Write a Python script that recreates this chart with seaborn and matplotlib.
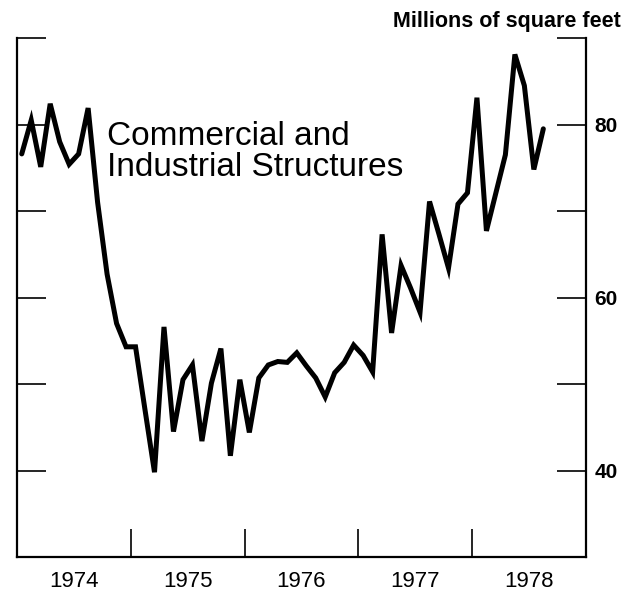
import numpy as np
import pandas as pd
import matplotlib
matplotlib.use("Agg")
import matplotlib.pyplot as plt
import seaborn as sns

# Monthly values, Jan 1974 - Aug 1978 (millions of square feet)
values = [
    76.6, 80.5, 75.1, 82.4, 78.0, 75.4, 76.6, 81.9, 71.0, 62.7, 57.0, 54.3,   # 1974
    54.3, 47.0, 39.8, 56.6, 44.5, 50.5, 52.2, 43.4, 50.1, 54.1, 41.7, 50.5,   # 1975
    44.4, 50.7, 52.2, 52.6, 52.5, 53.6, 52.1, 50.7, 48.5, 51.3, 52.5, 54.5,   # 1976
    53.3, 51.4, 67.3, 55.9, 63.7, 61.1, 58.3, 71.1, 67.3, 63.4, 70.8, 72.1,   # 1977
    83.1, 67.7, 72.1, 76.5, 88.1, 84.5, 74.8, 79.5,                           # 1978
]
start_year = 1974
year_labels = ["1974", "1975", "1976", "1977", "1978"]
y_ticks = [40, 50, 60, 70, 80, 90]
y_tick_labels = ["40", "", "60", "", "80", ""]
title_text = "Millions of square feet"
series_label = "Commercial and\nIndustrial Structures"

months = np.arange(len(values))
df = pd.DataFrame({"x": start_year + (months + 0.5) / 12.0, "y": values})

sns.set_style("white")
plt.rcParams["font.family"] = ["Liberation Sans", "DejaVu Sans"]
plt.rcParams["text.color"] = "black"
plt.rcParams["xtick.color"] = "black"
plt.rcParams["ytick.color"] = "black"
plt.rcParams["xtick.labelcolor"] = "black"
plt.rcParams["ytick.labelcolor"] = "black"

fig = plt.figure(figsize=(6.35, 5.95), dpi=100)
ax = fig.add_axes([17 / 635, 1 - 557 / 595, (586 - 17) / 635, (557 - 38) / 595])

sns.lineplot(data=df, x="x", y="y", ax=ax, color="black", linewidth=3.6,
             solid_joinstyle="miter")

ax.set_xlim(1974, 1979)
ax.set_ylim(30, 90)

# spines
ax.spines["top"].set_visible(False)
for s in ["left", "right", "bottom"]:
    ax.spines[s].set_visible(True)
    ax.spines[s].set_color("black")
    ax.spines[s].set_linewidth(1.6)

# y ticks: inward on both sides, labels on right
ax.set_yticks(y_ticks)
ax.set_yticklabels(y_tick_labels)
ax.tick_params(axis="y", which="major", left=True, right=True, labelleft=False,
               labelright=True, direction="in", length=21, width=1.2,
               pad=6, labelsize=15, colors="black")
for lab in ax.get_yticklabels():
    lab.set_fontweight("bold")

# x ticks: year boundaries (inward), labels centered in each year
boundaries = [start_year + i for i in range(1, len(year_labels))]
ax.set_xticks(boundaries)
ax.set_xticklabels([""] * len(boundaries))
ax.tick_params(axis="x", which="major", bottom=True, direction="in",
               length=20, width=1.2, colors="black")
mids = [start_year + i + 0.5 for i in range(len(year_labels))]
ax.set_xticks(mids, minor=True)
ax.set_xticklabels(year_labels, minor=True)
ax.tick_params(axis="x", which="minor", length=0, pad=10, labelsize=16,
               colors="black")

ax.set_xlabel("")
ax.set_ylabel("")

fig.text(621 / 635, 1 - 21 / 595, title_text, ha="right", va="center",
         fontsize=15.5, fontweight="bold", color="black")
ax.text(107 / 635, 1 - 121 / 595, series_label, transform=fig.transFigure,
        ha="left", va="top", fontsize=24, linespacing=1.0, color="black")

fig.savefig("out.png", dpi=100)
